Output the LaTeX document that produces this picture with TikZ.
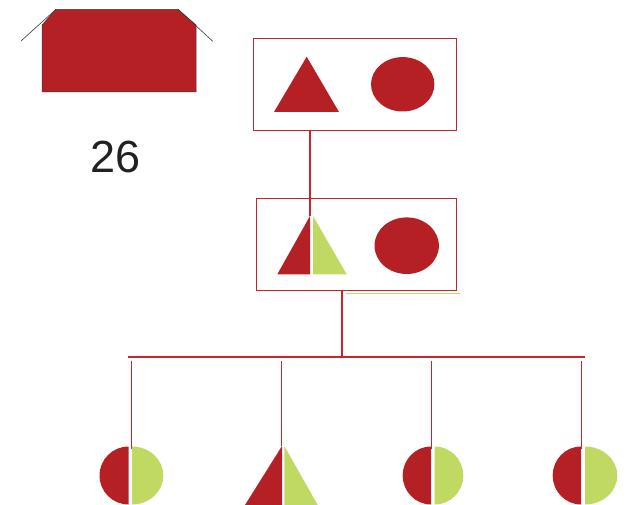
\documentclass[tikz,border=0pt]{standalone}
\usepackage{fontspec}
\setmainfont{Liberation Sans}
\definecolor{myred}{HTML}{B52025}
\definecolor{boxred}{HTML}{C4262E}
\definecolor{mygreen}{HTML}{BFD962}
\definecolor{roofgray}{HTML}{3A3A3A}
\begin{document}
\begin{tikzpicture}[x=1pt,y=-1pt,
  framebox/.style={draw=boxred,line width=0.9pt,inner sep=0pt,rectangle},
  conn/.style={draw=boxred,line width=1.1pt},
  redfill/.style={fill=myred},
  greenfill/.style={fill=mygreen}]
\useasboundingbox (0,0) rectangle (627,505);
% house
\filldraw[fill=myred,draw=roofgray,line width=0.5pt] (42,92) -- (42,25) -- (56,9.3) -- (178,9.3) -- (196,25) -- (196,92) -- cycle;
\draw[roofgray,line width=0.6pt] (21,41) -- (56,9.3);
\draw[roofgray,line width=0.6pt] (178,9.3) -- (213,41.5);
\node[anchor=base,inner sep=0pt,text=black!87,font=\fontsize{45}{45}\selectfont] (num) at (116,173) {26};
% boxes
\node[framebox,minimum width=203.7pt,minimum height=92pt] (box1) at (354.8,84.7) {};
\node[framebox,minimum width=200.4pt,minimum height=92pt] (box2) at (356.5,244) {};
% box1 shapes
\fill[redfill] (306.7,56.7) -- (339,112) -- (274,112) -- cycle;
\fill[redfill] (402.7,84.3) ellipse [x radius=31.7, y radius=27.2];
% box2 shapes
\fill[redfill] (310,216) -- (310,274.3) -- (277.3,274.3) -- cycle;
\fill[greenfill] (313,216) -- (346.7,274.3) -- (313,274.3) -- cycle;
\fill[redfill] (406.7,245.7) ellipse [x radius=32.2, y radius=28.3];
% green line
\draw[mygreen,line width=1pt] (346,293.5) -- (460,293.5);
% connectors
\coordinate (t2) at (310,216);
\draw[conn] (t2 |- box1.south) -- (t2);
\coordinate (j) at (342,357);
\draw[conn] (j |- box2.south) -- (j);
\coordinate (busL) at (128,357);
\coordinate (busR) at (585,357);
\draw[conn] (busL) -- (busR);
\coordinate (d1) at (131.5,360.7); \coordinate (e1) at (131.5,449);
\coordinate (d2) at (281.5,360.7); \coordinate (e2) at (281.5,446);
\coordinate (d3) at (431.5,360.7); \coordinate (e3) at (431.5,449);
\coordinate (d4) at (581.5,360.7); \coordinate (e4) at (581.5,449);
\draw[conn] (d1) -- (e1);
\draw[conn] (d2) -- (e2);
\draw[conn] (d3) -- (e3);
\draw[conn] (d4) -- (e4);
% bottom shapes
% circle 1
\fill[redfill] (128.5,504.5) arc[start angle=90,end angle=270,x radius=29,y radius=29] -- cycle;
\fill[greenfill] (132,446.5) arc[start angle=-90,end angle=90,x radius=31.3,y radius=29] -- cycle;
% triangle
\fill[redfill] (282,446) -- (282,505) -- (245,505) -- cycle;
\fill[greenfill] (284.3,446) -- (317.7,505) -- (284.3,505) -- cycle;
% circle 3
\fill[redfill] (431,504.5) arc[start angle=90,end angle=270,x radius=28.3,y radius=29] -- cycle;
\fill[greenfill] (434.7,446.5) arc[start angle=-90,end angle=90,x radius=28.6,y radius=29] -- cycle;
% circle 4
\fill[redfill] (581,504.5) arc[start angle=90,end angle=270,x radius=28.3,y radius=29] -- cycle;
\fill[greenfill] (585,446.5) arc[start angle=-90,end angle=90,x radius=32.3,y radius=29] -- cycle;
\end{tikzpicture}
\end{document}
